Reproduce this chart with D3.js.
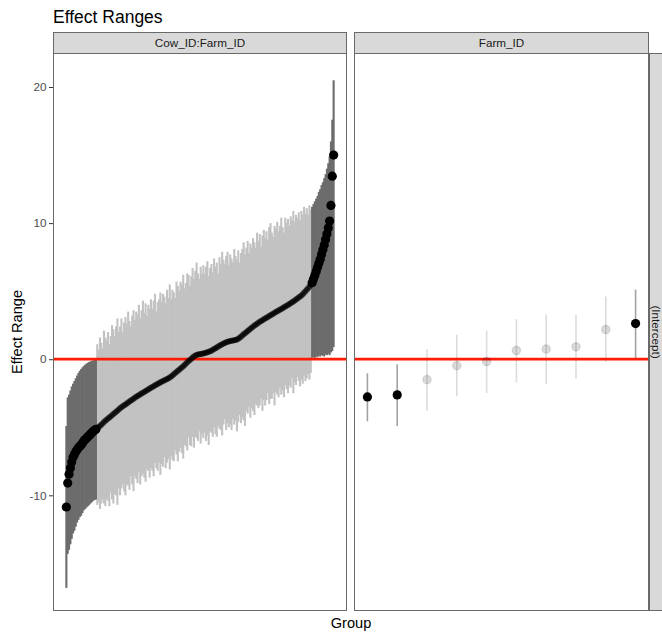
<!DOCTYPE html>
<html>
<head>
<meta charset="utf-8">
<script src="https://cdn.jsdelivr.net/npm/d3@7"></script>
<style>
  body { margin: 0; background: #fff; }
  svg { display: block; font-family: "Liberation Sans", Arial, Helvetica, sans-serif; }
</style>
</head>
<body>
<svg id="chart" width="662" height="633"></svg>
<script>
// ---- labels ----
const title = "Effect Ranges";
const facetLabels = ["Cow_ID:Farm_ID", "Farm_ID"];
const termLabel = "(Intercept)";
const xLabel = "Group";
const yLabel = "Effect Range";
const yTicks = [-10, 0, 10, 20];

// ---- Cow_ID:Farm_ID random effects, ordered by median ----
const cowMedian = [
  -10.86, -9.1, -8.45, -8.0, -7.55, -7.2, -7.0, -6.8, -6.65, -6.5, -6.4, -6.3, -6.15, -6.0, -5.9, -5.8, -5.7, -5.6, -5.5, -5.4, -5.3, -5.22, -5.15,
  -5.08, -4.98, -4.9, -4.82, -4.72, -4.62, -4.52, -4.45, -4.36, -4.28, -4.2, -4.12, -4.03, -3.95, -3.86, -3.78, -3.69, -3.6, -3.53, -3.46,
  -3.39, -3.32, -3.25, -3.18, -3.11, -3.04, -2.97, -2.9, -2.83, -2.76, -2.7, -2.64, -2.58, -2.52, -2.46, -2.4, -2.34, -2.28, -2.22, -2.16,
  -2.1, -2.04, -1.98, -1.92, -1.87, -1.81, -1.76, -1.7, -1.65, -1.6, -1.55, -1.5, -1.45, -1.4, -1.35, -1.27, -1.19, -1.1, -1.01, -0.93,
  -0.85, -0.77, -0.69, -0.61, -0.52, -0.43, -0.33, -0.23, -0.14, -0.05, 0.04, 0.12, 0.2, 0.27, 0.31, 0.34, 0.36, 0.38, 0.4, 0.42,
  0.45, 0.48, 0.51, 0.54, 0.58, 0.63, 0.69, 0.75, 0.81, 0.87, 0.93, 0.99, 1.05, 1.1, 1.15, 1.2, 1.25, 1.29, 1.31, 1.33,
  1.35, 1.37, 1.39, 1.41, 1.44, 1.5, 1.58, 1.66, 1.74, 1.83, 1.91, 1.99, 2.07, 2.15, 2.23, 2.31, 2.39, 2.47, 2.54, 2.61,
  2.68, 2.75, 2.81, 2.87, 2.93, 2.99, 3.05, 3.11, 3.17, 3.23, 3.29, 3.35, 3.41, 3.47, 3.53, 3.58, 3.63, 3.69, 3.75, 3.81,
  3.87, 3.93, 3.99, 4.05, 4.11, 4.18, 4.25, 4.32, 4.39, 4.46, 4.53, 4.6, 4.68, 4.78, 4.88, 4.99, 5.1, 5.22, 5.35, 5.48,
  5.62, 5.9, 6.15, 6.45, 6.75, 7.05, 7.35, 7.7, 8.05, 8.4, 8.8, 9.2, 9.65, 10.15, 11.3, 13.45, 15.0
];
const cowLower = [
  -16.8, -14.3, -14.0, -13.6, -13.2, -12.8, -12.6, -12.3, -12.0, -11.8, -11.6, -11.5, -11.3, -11.1, -11.0, -10.9, -10.8, -10.7, -10.6, -10.5, -10.4, -10.35, -10.3,
  -10.7, -10.5, -11.0, -10.6, -10.3, -10.6, -10.8, -10.3, -10.4, -10.8, -9.8, -10.3, -10.6, -9.9, -10.0, -10.7, -9.5, -10.0, -9.5, -9.2,
  -9.7, -10.0, -9.2, -9.3, -9.6, -8.6, -9.2, -9.7, -8.6, -8.8, -9.1, -8.3, -9.2, -8.6, -8.4, -8.7, -9.0, -8.1, -8.2, -8.7,
  -8.0, -8.2, -8.6, -7.6, -8.0, -8.2, -7.6, -8.5, -7.7, -7.9, -7.2, -8.0, -7.6, -7.3, -8.1, -7.1, -7.4, -7.5, -6.7, -7.0,
  -7.5, -6.8, -6.5, -6.9, -7.3, -6.3, -6.4, -6.7, -5.7, -6.3, -6.4, -5.7, -6.5, -5.7, -5.8, -6.0, -5.3, -6.2, -5.5, -5.8,
  -5.4, -6.0, -5.6, -6.3, -5.3, -5.4, -5.7, -5.0, -5.5, -5.7, -4.9, -5.1, -5.2, -5.6, -4.8, -4.4, -5.2, -4.7, -5.0, -4.8,
  -5.2, -4.4, -4.8, -4.5, -5.3, -4.6, -4.1, -4.7, -4.3, -4.5, -4.9, -3.8, -4.0, -3.5, -4.3, -3.6, -3.8, -4.1, -3.3, -3.4,
  -3.6, -3.4, -2.9, -3.8, -3.0, -3.4, -3.0, -2.5, -3.3, -2.9, -2.9, -2.5, -3.4, -2.4, -2.6, -2.8, -2.1, -2.6, -2.3, -2.8,
  -1.9, -2.2, -2.5, -1.9, -2.1, -1.4, -2.5, -1.7, -1.9, -1.3, -1.6, -2.0, -1.5, -1.8, -1.2, -1.6, -1.4, -1.1, -1.5, -1.0,
  0.1, 0.15, 0.1, 0.2, 0.15, 0.25, 0.2, 0.3, 0.25, 0.2, 0.35, 0.3, 0.4, 0.3, 0.5, 0.6, 0.9
];
const cowUpper = [
  -4.9, -2.8, -2.6, -2.3, -2.0, -1.8, -1.6, -1.4, -1.2, -1.0, -0.85, -0.72, -0.6, -0.5, -0.4, -0.32, -0.26, -0.2, -0.16, -0.12, -0.09, -0.06, -0.04,
  1.1, 0.7, 1.6, 1.2, 0.8, 2.1, 1.6, 1.4, 2.0, 1.1, 1.7, 2.5, 2.2, 1.7, 2.4, 3.0, 2.0, 2.4, 3.0, 2.0,
  2.7, 3.1, 2.6, 3.5, 2.8, 2.4, 3.2, 3.6, 2.9, 3.5, 3.3, 4.0, 3.0, 3.6, 4.3, 3.4, 4.1, 3.2, 4.0, 3.7,
  4.4, 3.7, 4.3, 4.8, 3.5, 4.2, 4.4, 4.9, 4.2, 4.8, 4.6, 4.1, 5.1, 4.5, 5.5, 4.4, 5.1, 4.9, 4.5, 5.7,
  5.4, 5.0, 5.7, 5.5, 6.2, 5.2, 5.6, 6.3, 6.2, 5.4, 6.1, 6.7, 5.9, 6.5, 7.1, 6.3, 5.9, 6.8, 6.3, 6.9,
  6.3, 6.8, 7.2, 6.1, 6.7, 7.0, 6.4, 7.4, 6.8, 7.1, 6.3, 7.5, 7.0, 7.9, 7.3, 7.0, 7.6, 7.9, 6.9, 7.7,
  7.4, 7.1, 8.1, 7.6, 7.3, 8.0, 7.1, 7.8, 8.1, 8.6, 7.7, 8.2, 8.7, 7.8, 8.5, 8.2, 8.9, 8.6, 8.2, 9.3,
  8.7, 9.2, 8.3, 9.1, 9.5, 8.9, 9.4, 8.8, 9.7, 10.0, 9.3, 9.0, 9.8, 9.6, 10.1, 9.4, 9.8, 10.4, 9.7, 9.3,
  10.4, 10.0, 10.3, 9.8, 10.5, 10.2, 10.9, 10.1, 10.6, 10.4, 10.8, 10.2, 10.9, 10.6, 11.2, 10.7, 11.1, 10.6, 11.3, 11.0,
  11.2, 11.4, 11.6, 11.8, 12.0, 12.3, 12.5, 12.8, 13.0, 13.3, 13.6, 14.0, 14.4, 14.9, 16.0, 17.6, 20.5
];

// ---- Farm_ID random effects, ordered by median ----
const farmMedian = [-2.77, -2.62, -1.5, -0.47, -0.17, 0.64, 0.74, 0.91, 2.18, 2.62];
const farmLower  = [-4.56, -4.9, -3.8, -2.72, -2.48, -1.72, -1.84, -1.42, -0.2, 0.02];
const farmUpper  = [-1.03, -0.37, 0.76, 1.79, 2.11, 2.94, 3.26, 3.24, 4.61, 5.12];

// ---- layout ----
const stripTop = 32, panelTop = 53, panelBottom = 611;
const frameColor = "#6a6a6a";
const stripFill = "#d9d9d9";
const svg = d3.select("#chart");

const yScale = d3.scaleLinear().domain([-18.5, 22.5]).range([panelBottom, panelTop]);

function facetRows(median, lower, upper) {
  return median.map((m, i) => ({
    id: i + 1, median: m, lower: lower[i], upper: upper[i],
    sig: upper[i] < 0 || lower[i] > 0
  }));
}

const facets = [
  { label: facetLabels[0], x0: 53, x1: 347, rows: facetRows(cowMedian, cowLower, cowUpper),
    barWidth: 2.1, barColor: "#c2c2c2", sigBarColor: "#6c6c6c",
    dotR: 3.0, dotOpacity: 0.55, dotStrokeOpacity: 0, sigR: 4.6 },
  { label: facetLabels[1], x0: 354, x1: 649, rows: facetRows(farmMedian, farmLower, farmUpper),
    barWidth: 1.6, barColor: "#dcdcdc", sigBarColor: "#a2a2a2",
    dotR: 4.2, dotOpacity: 0.14, dotStrokeOpacity: 0.12, sigR: 4.6 }
];

// title
svg.append("text")
  .attr("x", 53).attr("y", 23)
  .attr("font-size", 17.5).attr("fill", "#000")
  .text(title);

facets.forEach((f, k) => {
  const n = f.rows.length;
  const pad = 0.05 * (n - 1);
  const x = d3.scaleLinear().domain([1 - pad, n + pad]).range([f.x0, f.x1]);

  const clipId = "clip" + k;
  svg.append("clipPath").attr("id", clipId)
    .append("rect").attr("x", f.x0).attr("y", panelTop)
    .attr("width", f.x1 - f.x0).attr("height", panelBottom - panelTop);

  const g = svg.append("g").attr("clip-path", `url(#${clipId})`);

  g.append("rect").attr("x", f.x0).attr("y", panelTop)
    .attr("width", f.x1 - f.x0).attr("height", panelBottom - panelTop)
    .attr("fill", "#fff");

  // interval bars
  g.selectAll("line.bar").data(f.rows.filter(d => !d.sig)).join("line")
    .attr("class", "bar")
    .attr("x1", d => x(d.id)).attr("x2", d => x(d.id))
    .attr("y1", d => yScale(d.lower)).attr("y2", d => yScale(d.upper))
    .attr("stroke", f.barColor).attr("stroke-width", f.barWidth);

  g.selectAll("line.sigbar").data(f.rows.filter(d => d.sig)).join("line")
    .attr("class", "sigbar")
    .attr("x1", d => x(d.id)).attr("x2", d => x(d.id))
    .attr("y1", d => yScale(d.lower)).attr("y2", d => yScale(d.upper))
    .attr("stroke", f.sigBarColor).attr("stroke-width", f.barWidth);

  // zero reference line
  g.append("line")
    .attr("x1", f.x0).attr("x2", f.x1)
    .attr("y1", yScale(0)).attr("y2", yScale(0))
    .attr("stroke", "#ff1a00").attr("stroke-width", 2.8);

  // medians
  g.selectAll("circle.dot").data(f.rows.filter(d => !d.sig)).join("circle")
    .attr("class", "dot")
    .attr("cx", d => x(d.id)).attr("cy", d => yScale(d.median))
    .attr("r", f.dotR)
    .attr("fill", "#000").attr("fill-opacity", f.dotOpacity)
    .attr("stroke", "#000").attr("stroke-opacity", f.dotStrokeOpacity).attr("stroke-width", 1.2);

  g.selectAll("circle.sigdot").data(f.rows.filter(d => d.sig)).join("circle")
    .attr("class", "sigdot")
    .attr("cx", d => x(d.id)).attr("cy", d => yScale(d.median))
    .attr("r", f.sigR).attr("fill", "#000");

  // panel frame
  svg.append("rect")
    .attr("x", f.x0 + 0.5).attr("y", panelTop + 0.5)
    .attr("width", f.x1 - f.x0 - 1).attr("height", panelBottom - panelTop - 1)
    .attr("fill", "none").attr("stroke", frameColor).attr("stroke-width", 1);

  // facet strip
  svg.append("rect")
    .attr("x", f.x0 + 0.5).attr("y", stripTop + 0.5)
    .attr("width", f.x1 - f.x0 - 1).attr("height", panelTop - stripTop)
    .attr("fill", stripFill).attr("stroke", frameColor).attr("stroke-width", 1);
  svg.append("text")
    .attr("x", (f.x0 + f.x1) / 2).attr("y", 46.8)
    .attr("text-anchor", "middle").attr("font-size", 11.7).attr("fill", "#1a1a1a")
    .text(f.label);
});

// term strip on the right
svg.append("rect")
  .attr("x", 649.5).attr("y", panelTop + 0.5)
  .attr("width", 24).attr("height", panelBottom - panelTop - 1)
  .attr("fill", stripFill).attr("stroke", frameColor).attr("stroke-width", 1);
svg.append("text")
  .attr("transform", `translate(651.8, ${(panelTop + panelBottom) / 2}) rotate(90)`)
  .attr("text-anchor", "middle").attr("font-size", 11.7).attr("fill", "#1a1a1a")
  .text(termLabel);

// y axis
const yAxis = svg.append("g")
  .attr("transform", "translate(53,0)")
  .call(d3.axisLeft(yScale).tickValues(yTicks).tickSize(4).tickPadding(2.5)
    .tickFormat(d => String(d)));
yAxis.select(".domain").remove();
yAxis.selectAll(".tick line").attr("stroke", "#333");
yAxis.selectAll(".tick text")
  .attr("fill", "#4d4d4d").attr("font-size", 11.7)
  .attr("font-family", '"Liberation Sans", Arial, Helvetica, sans-serif');

// axis titles
svg.append("text")
  .attr("x", 351).attr("y", 628)
  .attr("text-anchor", "middle").attr("font-size", 14.6).attr("fill", "#000")
  .text(xLabel);
svg.append("text")
  .attr("transform", `translate(21.5, ${(panelTop + panelBottom) / 2}) rotate(-90)`)
  .attr("text-anchor", "middle").attr("font-size", 14.6).attr("fill", "#000")
  .text(yLabel);
</script>
</body>
</html>
